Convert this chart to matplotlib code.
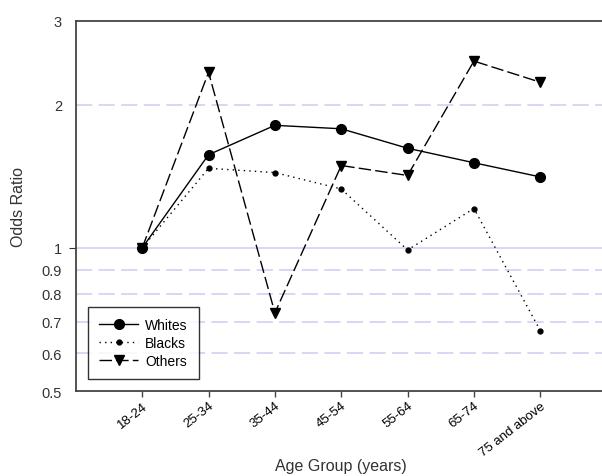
import numpy as np
import matplotlib.pyplot as plt
from matplotlib.ticker import FixedLocator, NullLocator

# categories and odds ratios
age_groups = ["18-24", "25-34", "35-44", "45-54", "55-64", "65-74", "75 and above"]
whites = [1.00, 1.57, 1.81, 1.78, 1.62, 1.51, 1.41]
blacks = [1.00, 1.47, 1.44, 1.33, 0.99, 1.21, 0.67]
others = [1.00, 2.34, 0.73, 1.49, 1.42, 2.47, 2.23]
ytick_vals = [0.5, 0.6, 0.7, 0.8, 0.9, 1, 2, 3]
ytick_labels = ["0.5", "0.6", "0.7", "0.8", "0.9", "1", "2", "3"]


def main():
    plt.rcParams["font.family"] = ["Liberation Sans", "DejaVu Sans"]
    fig = plt.figure(figsize=(6.02, 4.77), dpi=100)
    ax = fig.add_axes([0.126, 0.178, 0.874, 0.776])

    x = np.arange(len(age_groups))
    grid_col = "#d4d4f6"
    # reference lines
    for v in [0.6, 0.7, 0.8, 0.9, 2]:
        ax.axhline(v, color=grid_col, lw=1.3, ls=(0, (9, 3.5)), zorder=0)
    ax.axhline(1, color=grid_col, lw=1.3, zorder=0)

    ax.plot(x, whites, color="black", lw=1.0, marker="o", ms=7,
            label="Whites", zorder=3)
    ax.plot(x, blacks, color="black", lw=1.0, ls=(0, (1, 3)), marker="o",
            ms=3.5, label="Blacks", zorder=3)
    ax.plot(x, others, color="black", lw=1.0, ls=(0, (9, 3)), marker="v",
            ms=7.5, label="Others", zorder=3)

    ax.set_yscale("log")
    ax.set_ylim(0.5, 3)
    ax.yaxis.set_major_locator(FixedLocator(ytick_vals))
    ax.yaxis.set_minor_locator(NullLocator())
    ax.set_yticklabels(ytick_labels)
    ax.set_xlim(-1, 6.93)
    ax.set_xticks(x)
    ax.set_xticklabels(age_groups, rotation=38, ha="right",
                       rotation_mode="anchor", fontsize=9.5)

    ax.tick_params(axis="y", length=0, pad=10, labelsize=10.5, colors="#333333")
    ax.tick_params(axis="x", length=4, width=1, color="#444444",
                   labelsize=9.5, pad=2)
    # only the tick at 1 is drawn on the y axis
    for t, v in zip(ax.yaxis.get_major_ticks(), ytick_vals):
        if v == 1:
            t.tick1line.set_markersize(5)

    for side in ["left", "bottom", "top"]:
        ax.spines[side].set_color("#444444")
        ax.spines[side].set_linewidth(1.3)
    ax.spines["right"].set_visible(False)

    ax.set_ylabel("Odds Ratio", fontsize=11.5, color="#333333", labelpad=11)
    ax.set_xlabel("Age Group (years)", fontsize=11.5, color="#333333",
                  va="center")
    ax.xaxis.set_label_coords(0.504, -0.2)

    leg = ax.legend(loc="lower left", bbox_to_anchor=(0.023, 0.032),
                    borderaxespad=0, fontsize=10, frameon=True, fancybox=False,
                    handlelength=2.8, borderpad=0.8, labelspacing=0.3,
                    handletextpad=0.5)
    leg.get_frame().set_edgecolor("black")
    leg.get_frame().set_linewidth(1.0)

    fig.savefig("out.png", dpi=100)


if __name__ == "__main__":
    main()
